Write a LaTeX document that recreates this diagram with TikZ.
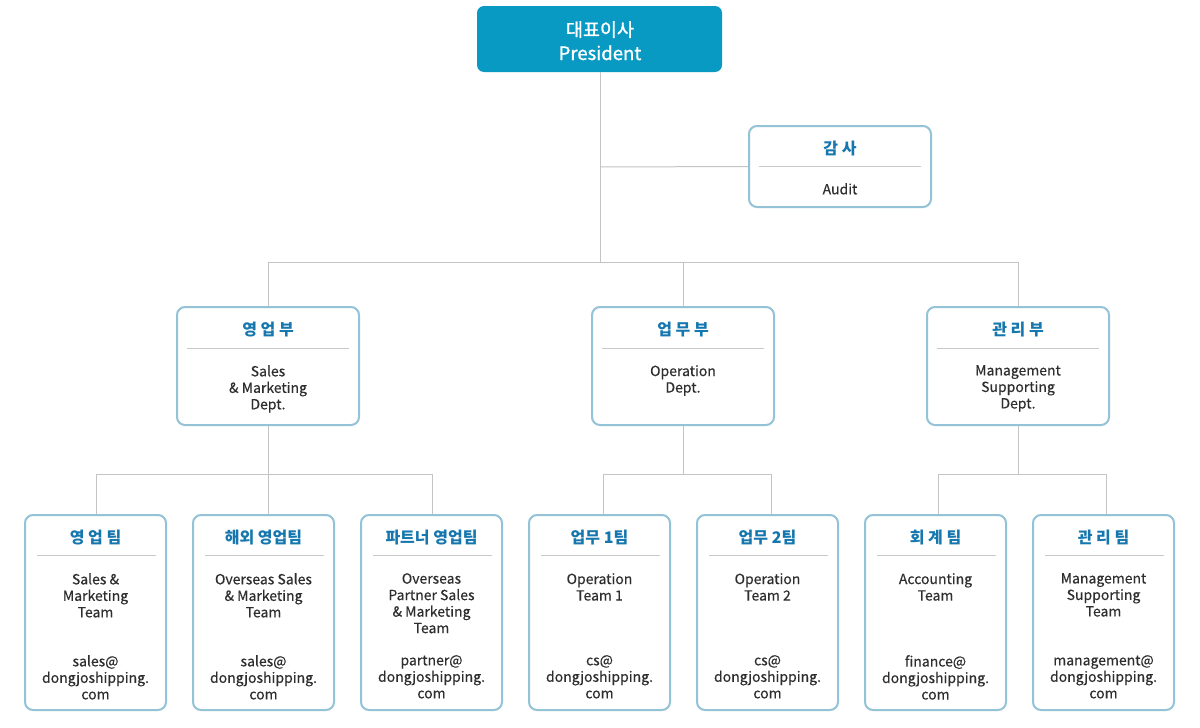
\documentclass[tikz,border=0pt]{standalone}
\usepackage{fontspec}
\setmainfont{Noto Sans CJK KR}
\newfontfamily\presfont[FakeBold=1.2]{Noto Sans CJK KR}
\newfontfamily\bodyfont[FakeBold=0.3]{Noto Sans CJK KR}
\definecolor{presfill}{HTML}{089AC2}
\definecolor{titleblue}{HTML}{1577AE}
\definecolor{boxborder}{HTML}{94C2D6}
\definecolor{sepgray}{HTML}{C8C8C8}
\definecolor{conngray}{HTML}{C4C4C4}
\definecolor{bodytext}{HTML}{2E2E2E}
\begin{document}
\begin{tikzpicture}[x=1pt,y=-1pt,
  box/.style={draw=boxborder, line width=2pt, rounded corners=8pt, fill=white, inner sep=0pt},
  teambox/.style={box, minimum width=141pt, minimum height=195pt},
  deptbox/.style={box, minimum width=182pt, minimum height=118pt},
  titletext/.style={anchor=base, inner sep=0pt, text=titleblue, font=\fontsize{16}{19}\selectfont\bfseries},
  bodytxt/.style={anchor=north, inner sep=0pt, align=center, text=bodytext,
     font=\bodyfont\fontsize{14}{16.5}\selectfont, execute at begin node={\rule{0pt}{11pt}}},
  sep/.style={draw=sepgray, line width=1pt},
  conn/.style={draw=conngray, line width=1pt},
  prestext/.style={anchor=base, inner sep=0pt, text=white, font=\presfont\fontsize{18.5}{23}\selectfont}
]
\useasboundingbox[fill=white] (0,0) rectangle (1200,728);

% President
\node[draw=none, fill=presfill, rounded corners=7pt, minimum width=245pt, minimum height=66pt, inner sep=0pt] (pres) at (599.5,39) {};
\node[prestext] (presk) at (600,36.5) {대표이사};
\node[prestext] (prese) at (600,60) {President};

% Audit
\node[box, minimum width=182pt, minimum height=81pt] (audit) at (840,166.5) {};
\node[titletext] (auditt) at ([yshift=-29pt]audit.north) {감 사};
\draw[sep] ([xshift=11pt,yshift=-41pt]audit.north west) -- ([xshift=-11pt,yshift=-41pt]audit.north east);
\node[bodytxt] (auditb) at ([yshift=-58pt]audit.north) {Audit};

% Departments
\node[deptbox] (d1) at (268,366) {};
\node[deptbox] (d2) at (683,366) {};
\node[deptbox] (d3) at (1018,366) {};
\foreach \n/\t/\b in {d1/영 업 부/{Sales\\\& Marketing\\Dept.}, d2/업 무 부/{Operation\\Dept.}, d3/관 리 부/{Management\\Supporting\\Dept.}}{
  \node[titletext] (\n t) at ([yshift=-29pt]\n.north) {\t};
  \draw[sep] ([xshift=11pt,yshift=-42pt]\n.north west) -- ([xshift=-11pt,yshift=-42pt]\n.north east);
  \node[bodytxt] (\n b) at ([yshift=-59pt]\n.north) {\b};
}

% Teams
\node[teambox] (t1) at (95.5,612.5) {};
\node[teambox] (t2) at (263.5,612.5) {};
\node[teambox] (t3) at (431.5,612.5) {};
\node[teambox] (t4) at (599.5,612.5) {};
\node[teambox] (t5) at (767.5,612.5) {};
\node[teambox] (t6) at (935.5,612.5) {};
\node[teambox] (t7) at (1103.5,612.5) {};
\foreach \n/\t/\b/\e in {
  t1/영 업 팀/{Sales \&\\Marketing\\Team}/sales,
  t2/해외 영업팀/{Overseas Sales\\\& Marketing\\Team}/sales,
  t3/파트너 영업팀/{Overseas\\Partner Sales\\\& Marketing\\Team}/partner,
  t4/업무 1팀/{Operation\\Team 1}/cs,
  t5/업무 2팀/{Operation\\Team 2}/cs,
  t6/회 계 팀/{Accounting\\Team}/finance,
  t7/관 리 팀/{Management\\Supporting\\Team}/management}{
  \node[titletext] (\n t) at ([yshift=-29pt]\n.north) {\t};
  \draw[sep] ([xshift=13pt,yshift=-41pt]\n.north west) -- ([xshift=-11pt,yshift=-41pt]\n.north east);
  \node[bodytxt] (\n b) at ([yshift=-59pt]\n.north) {\b};
  \node[bodytxt] (\n e) at ([yshift=-141pt]\n.north) {\e @\\dongjoshipping.\\com};
}

% Connectors
\coordinate (ja) at (600.5,167);
\coordinate (jb) at (600.5,262);
\coordinate (h1) at (268,262);
\coordinate (h3) at (1018,262);
\draw[conn] (pres.south -| ja) -- (jb);
\draw[conn] (ja) -- (audit.west);
\draw[conn] (d1.north) -- (h1) -- (h3) -- (d3.north);
\draw[conn] (jb -| d2.north) -- (d2.north);

\coordinate (k1) at (96.7,474);
\coordinate (k3) at (432.7,474);
\draw[conn] (d1.south) -- (d1.south |- t2.north);
\draw[conn] ([xshift=1.2pt]t1.north) -- (k1) -- (k3) -- ([xshift=1.2pt]t3.north);

\coordinate (k4) at (603.3,474);
\coordinate (k5) at (771.7,474);
\draw[conn] (d2.south) -- (d2.south |- k4);
\draw[conn] ([xshift=3.8pt]t4.north) -- (k4) -- (k5) -- ([xshift=4.2pt]t5.north);

\coordinate (k6) at (938.3,474);
\coordinate (k7) at (1106.7,474);
\draw[conn] (d3.south) -- (d3.south |- k6);
\draw[conn] ([xshift=2.8pt]t6.north) -- (k6) -- (k7) -- ([xshift=3.2pt]t7.north);
\end{tikzpicture}
\end{document}
